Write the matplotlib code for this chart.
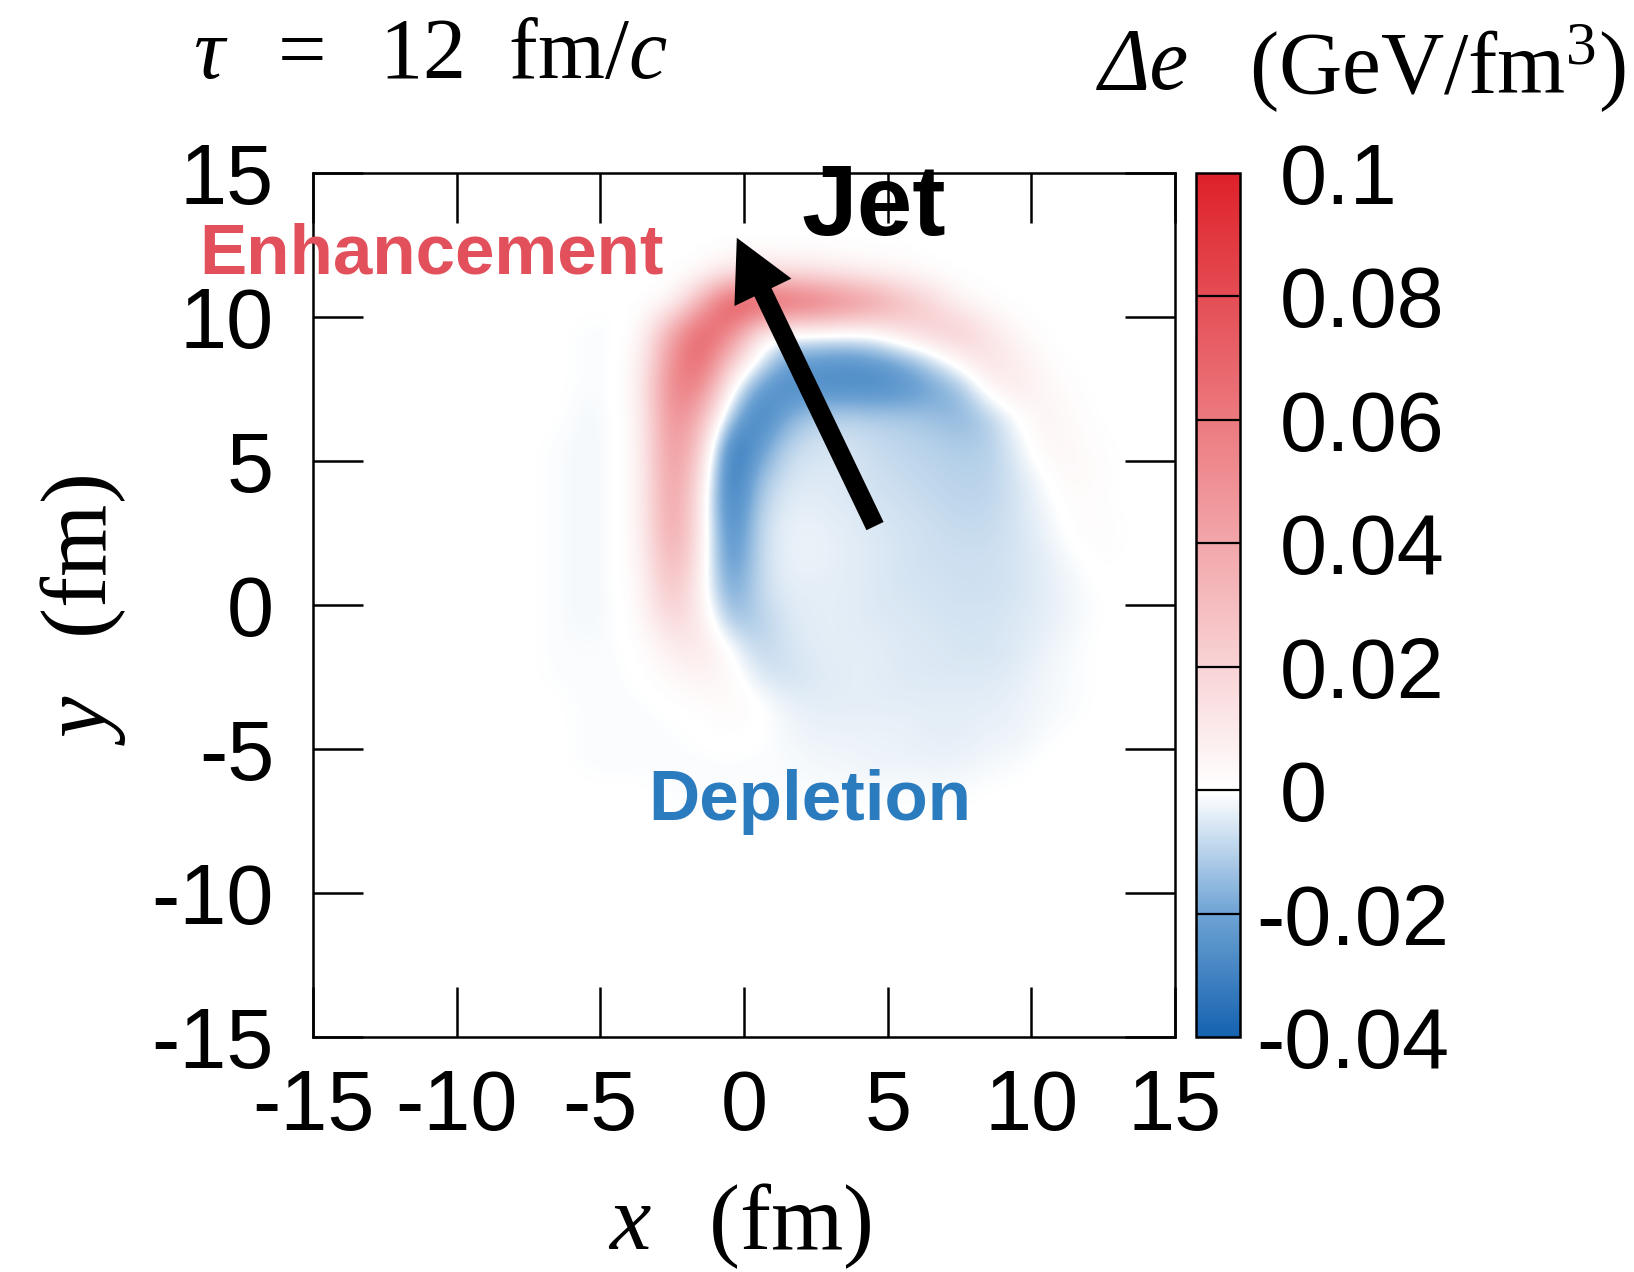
import matplotlib

matplotlib.use("Agg")
import matplotlib.pyplot as plt
import numpy as np
from matplotlib.colors import LinearSegmentedColormap, Normalize
from matplotlib.transforms import blended_transform_factory

plt.rcParams["axes.unicode_minus"] = False
plt.rcParams["font.family"] = ["Liberation Sans", "DejaVu Sans"]
plt.rcParams["mathtext.fontset"] = "custom"
plt.rcParams["mathtext.rm"] = "Liberation Serif"
plt.rcParams["mathtext.it"] = "Liberation Serif:italic"

# Delta e on a 1 fm grid, cell centres x = -7.5 .. 13.5,
# rows from y = 12.5 (top) down to y = -8.5; units of 1e-3 GeV/fm^3.
# Outside this window the field is zero.
grid_x_range = (-8, 14)
grid_y_range = (-9, 13)
delta_e_milli = [
    [0, 0, 0, 0, 0, 0, 0, 0, 0, 0, 0, 0, 0, 0, 0, 0, 0, 0, 0, 0, 0, 0],
    [0, 0, 0, 0, 0, 0, 2, 12, 15, 14, 12, 9, 6, 4, 1, 0, 0, 0, 0, 0, 0, 0],
    [0, 0, 0, 0, 0, 3, 35, 80, 82, 75, 68, 58, 48, 32, 20, 5, 1, 0, 0, 0, 0, 0],
    [0, 0, -1, -1, 3, 40, 72, 60, 10, 0, 1, 1, 3, 15, 22, 25, 12, 3, 0, 0, 0, 0],
    [0, 0, -1, -1, 6, 52, 72, 25, -2, -21, -24, -26, -24, -19, -9, 6, 15, 8, 2, 0, 0, 0],
    [0, 0, -1, -1, 8, 58, 55, 3, -24, -28, -27, -27, -28, -26, -21, -16, 4, 10, 4, 1, 0, 0],
    [0, 0, -2, -1, 6, 55, 35, -14, -32, -18, -10, -9, -10, -11, -13, -16, -12, 0, 6, 2, 0, 0],
    [0, -1, -2, -1, 6, 52, 25, -36, -24, -9, -6, -6, -8, -9, -10, -11, -11, -4, 5, 3, 1, 0],
    [0, -1, -2, -1, 6, 50, 15, -38, -15, -6, -5, -5, -7, -8, -9, -10, -10, -6, 0, 4, 1, 0],
    [0, -1, -2, -1, 6, 48, 10, -36, -10, -4, -4, -5, -6, -7, -8, -9, -9, -6, -2, 2, 1, 0],
    [0, -1, -2, -1, 6, 45, 10, -32, -8, -3, -3, -4, -5, -6, -7, -8, -8, -6, -3, 1, 2, 0],
    [0, -1, -2, -1, 5, 38, 8, -28, -8, -3, -3, -4, -5, -6, -7, -7, -7, -6, -4, -1, 1, 0],
    [0, -1, -2, -1, 4, 30, 6, -22, -8, -4, -4, -4, -5, -6, -6, -7, -7, -6, -4, -2, 0, 0],
    [0, -1, -2, -1, 3, 20, 10, -14, -11, -5, -4, -4, -5, -5, -6, -6, -6, -5, -4, -2, 0, 0],
    [0, -1, -1, -1, 1, 8, 12, 0, -10, -6, -4, -4, -4, -5, -5, -6, -6, -5, -3, -1, 0, 0],
    [0, -1, -1, -1, 0, 3, 6, 4, -5, -7, -5, -4, -4, -5, -5, -5, -5, -4, -2, -1, 0, 0],
    [0, 0, -1, -1, -1, 0, 1, 3, 1, -3, -4, -4, -4, -4, -4, -4, -4, -3, -2, -1, 0, 0],
    [0, 0, -1, -1, -1, -1, 0, 1, 0, -2, -3, -3, -3, -3, -4, -4, -3, -3, -1, 0, 0, 0],
    [0, 0, -1, -1, -1, -1, -1, -1, -1, -1, -2, -2, -3, -3, -3, -3, -2, -1, 0, 0, 0, 0],
    [0, 0, 0, 0, 0, -1, -1, -1, -1, -1, -1, -1, -1, -1, -1, -1, 0, 0, 0, 0, 0, 0],
    [0, 0, 0, 0, 0, 0, 0, 0, 0, 0, 0, 0, 0, 0, 0, 0, 0, 0, 0, 0, 0, 0],
    [0, 0, 0, 0, 0, 0, 0, 0, 0, 0, 0, 0, 0, 0, 0, 0, 0, 0, 0, 0, 0, 0],
]

x_ticks = [-15, -10, -5, 0, 5, 10, 15]
y_ticks = [-15, -10, -5, 0, 5, 10, 15]
cbar_ticks = [-0.04, -0.02, 0, 0.02, 0.04, 0.06, 0.08, 0.1]
cbar_labels = ["-0.04", "-0.02", "0", "0.02", "0.04", "0.06", "0.08", "0.1"]

# jet arrow (fm): tail -> tip
jet_tail = (4.56, 2.74)
jet_tip = (-0.25, 12.75)

W, H = 1634, 1272
fig = plt.figure(figsize=(W / 100, H / 100), dpi=100)
ax = fig.add_axes([313 / W, 1 - 1037 / H, 862 / W, 864 / H])

# zero field around the read-off window, so the image fills the whole frame
field = np.pad(np.array(delta_e_milli) / 1000.0,
               ((15 - grid_y_range[1], grid_y_range[0] + 15),
                (grid_x_range[0] + 15, 15 - grid_x_range[1])))

z0 = 2 / 7  # position of 0 on the -0.04 .. 0.1 scale
cmap = LinearSegmentedColormap.from_list(
    "delta_e",
    [(0.0, "#1562b0"), (1 / 7, "#6ea3d4"), (z0 - 0.003, "#ffffff"),
     (z0 + 0.003, "#ffffff"), (1.0, "#de2029")],
    N=1024,
)
norm = Normalize(vmin=-0.04, vmax=0.1)
im = ax.imshow(field, extent=[-15, 15, -15, 15], origin="upper", cmap=cmap,
               norm=norm, interpolation="bicubic", zorder=0)
ax.set_aspect("auto")
ax.set_xlim(-15, 15)
ax.set_ylim(-15, 15)
ax.set_xticks(x_ticks)
ax.set_yticks(y_ticks)
ax.set_xticklabels([str(t) for t in x_ticks])
ax.set_yticklabels([str(t) for t in y_ticks])
ax.tick_params(direction="in", length=36, width=1.8, top=True, right=True,
               labelsize=61)
ax.tick_params(axis="x", pad=22)
ax.tick_params(axis="y", pad=28)
for s in ax.spines.values():
    s.set_linewidth(1.8)

ax.arrow(jet_tail[0], jet_tail[1], jet_tip[0] - jet_tail[0], jet_tip[1] - jet_tail[1],
         width=0.66, head_width=2.2, head_length=2.1, length_includes_head=True,
         fc="black", ec="black", lw=0, zorder=5)
ax.text(2.0, 13.75, "Jet", fontsize=72, fontweight="bold", ha="left", va="center",
        zorder=6)

# colour bar with black separators at each tick
cax = fig.add_axes([1196 / W, 1 - 1037 / H, 44 / W, 864 / H])
cb = fig.colorbar(im, cax=cax)
cb.set_ticks([])
cb.outline.set_linewidth(1.8)
for v in cbar_ticks[1:-1]:
    cax.axhline(v, color="black", lw=1.6)
tr = blended_transform_factory(fig.transFigure, cax.transData)
for v, lab in zip(cbar_ticks, cbar_labels):
    x0 = 1280 / W if not lab.startswith("-") else 1256 / W
    fig.text(x0, v, lab, transform=tr, fontsize=61, ha="left",
             va="center_baseline")

fig.text(431 / W, 1 - 255 / H, "Enhancement", fontsize=51, fontweight="bold",
         color="#e2505c", ha="center", va="center")
fig.text(810 / W, 1 - 802 / H, "Depletion", fontsize=51, fontweight="bold",
         color="#2b7bbf", ha="center", va="center")

serif = "Liberation Serif"
fig.text(740 / W, 1 - 1226 / H, r"$x\,$  (fm)", fontsize=67, family=serif,
         ha="center", va="center")
fig.text(83 / W, 1 - 610 / H, r"$y\,$  (fm)", fontsize=67, family=serif,
         rotation=90, ha="center", va="center")
fig.text(193 / W, 1 - 57 / H, r"$\tau\,$  =$\,$  12  fm/$c$", fontsize=62,
         family=serif, ha="left", va="center")
fig.text(1099 / W, 1 - 68 / H, "\u0394e", fontsize=63, family=serif,
         fontstyle="italic", ha="left", va="center")
fig.text(1626 / W, 1 - 68 / H, r"(GeV/fm$^3$)", fontsize=63, family=serif,
         ha="right", va="center")

fig.savefig("out.png", dpi=100)
